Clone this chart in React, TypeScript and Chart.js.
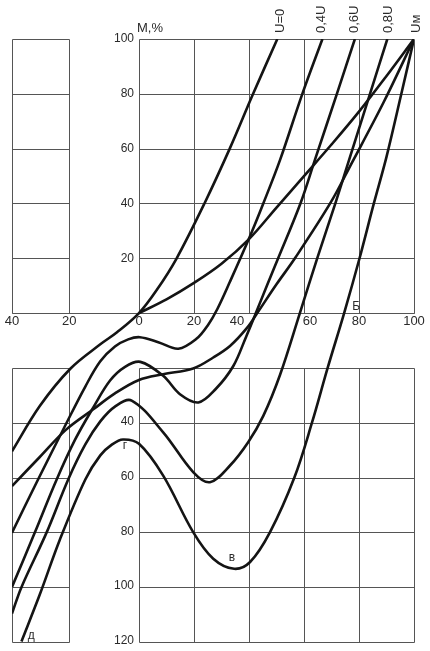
import React, { useEffect, useRef } from 'react';
import { Chart, registerables, LinearScale } from 'chart.js';

Chart.register(...registerables);

// ---------------- data ----------------
const X_TICKS = [-40, -20, 0, 20, 40, 60, 80, 100];
const X_TICK_LABELS = ['40', '20', '0', '20', '40', '60', '80', '100'];
const Y_TICKS_TOP = [20, 40, 60, 80, 100];
const Y_TICK_LABELS_TOP = ['20', '40', '60', '80', '100'];
const Y_TICKS_BOTTOM = [-40, -60, -80, -100, -120];
const Y_TICK_LABELS_BOTTOM = ['40', '60', '80', '100', '120'];

const GRID_X_LEFT = [-40, -20];
const GRID_X_MAIN = [0, 20, 40, 60, 80, 100];
const GRID_Y_TOP = [0, 20, 40, 60, 80, 100];
const GRID_Y_BOTTOM = [-20, -40, -60, -80, -100, -120];

const AXIS_TITLE = 'M,%';
const CURVE_NAMES = ['U=0', '0,4U', '0,6U', '0,8U', 'Uм'];
const CURVE_NAME_X = [51.3, 66.5, 78.5, 90.7, 101];
const POINT_LETTERS = ['Б', 'в', 'г', 'д'];
const POINT_LETTER_X = [79, 33.8, -4, -33.3];
const POINT_LETTER_Y = [2.5, -89.2, -48.4, -117.6];

// curve U = 0 (passes through the origin)
const curveU0: [number, number][] = [
  [-40, -50.4], [-30.3, -33.9], [-19.7, -20.3], [-11.1, -11.4], [-6.4, -7.1],
  [0, 0], [6.5, 8.5], [13.7, 20], [23.8, 40], [33, 60], [41.5, 80], [50.3, 100],
];
// curve from origin to the point Uм
const curveOriginUm: [number, number][] = [
  [0, 0], [10, 5], [20, 11], [30, 18], [40, 27], [50, 38.5], [60, 50], [70, 61.5],
  [80, 73.5], [90, 86.5], [100, 100],
];
// 0,4U
const curve04: [number, number][] = [
  [-40, -80.1], [-30.9, -60.7], [-21.5, -41.2], [-15.4, -26.8], [-11.1, -17.6], [-6.9, -12.2],
  [-3.1, -9.6], [0.3, -8.8], [7, -10.6], [14.3, -13], [21, -9.3], [25, -4.5], [28.5, 1.5],
  [33.1, 11.5], [40, 27.2], [45.2, 40], [51.3, 55.9], [59.4, 80], [66.7, 100],
];
// 0,6U
const curve06: [number, number][] = [
  [-40, -99.9], [-32, -80], [-24.4, -60.7], [-18.3, -46.1], [-13.1, -34.4], [-8.3, -24.6],
  [-4, -19.6], [0.5, -17.8], [8.8, -22.9], [14.9, -29.6], [21.6, -32.6], [27.9, -27.7],
  [34.3, -19.3], [39, -8.5], [42.5, 0], [46.5, 10], [50.6, 20], [58.7, 40], [64, 56],
  [71.9, 79.8], [78.5, 100],
];
// flat S-curve to Uм
const curveFlatUm: [number, number][] = [
  [-40, -63.1], [-30.3, -52.5], [-21.2, -42.6], [-13.1, -35.1], [-6.9, -29.3], [0, -24.4],
  [8.8, -22.3], [19.7, -20.2], [27, -16.2], [33.1, -12], [39.2, -5.5], [43, 0], [50, 10.5],
  [56.7, 20], [69.5, 40], [77.5, 55], [89, 77], [100, 100],
];
// 0,8U
const curve08: [number, number][] = [
  [-40, -109.6], [-36.7, -100], [-27.9, -80], [-20.3, -60.5], [-15.4, -47.9], [-11.1, -39.5],
  [-6.9, -34.1], [-2.1, -31.9], [8.8, -43.5], [19.7, -58], [25.8, -61.7], [33.1, -55.6],
  [39.7, -47.1], [45.2, -37.5], [51.3, -22.5], [58.5, 0], [64.8, 20], [71.4, 40], [76.4, 55.9],
  [84, 80], [90.3, 100],
];
// steep curve to Uм (through Б, в, г, д)
const curveSteepUm: [number, number][] = [
  [-36.7, -119.8], [-30.3, -102.7], [-23.3, -82.7], [-15.4, -60.7], [-11.1, -51.9],
  [-7.7, -47.9], [-4.6, -46.1], [0, -47.7], [8.8, -59.3], [19.7, -79.9], [27, -89.6],
  [34.6, -93.3], [40.4, -90.8], [47.6, -80], [56.5, -60], [62.9, -40], [68.6, -20],
  [74.6, 0], [80.2, 20], [85.4, 40], [90, 57], [95.4, 80], [100, 100],
];

const CURVES = [curveU0, curveOriginUm, curve04, curve06, curveFlatUm, curve08, curveSteepUm];

// ---------------- broken (piecewise linear) x scale ----------------
// value -> fraction of plot width
const X_BREAKS: [number, number][] = [[-40, 0], [-20, 0.1425], [0, 0.3159], [100, 1]];

function segIndex(v: number, col: number) {
  const b = X_BREAKS;
  let i = 0;
  while (i < b.length - 2 && v > b[i + 1][col]) i++;
  return i;
}
function valueToFraction(v: number) {
  const i = segIndex(v, 0);
  const [v0, f0] = X_BREAKS[i];
  const [v1, f1] = X_BREAKS[i + 1];
  return f0 + ((v - v0) / (v1 - v0)) * (f1 - f0);
}
function fractionToValue(f: number) {
  const i = segIndex(f, 1);
  const [v0, f0] = X_BREAKS[i];
  const [v1, f1] = X_BREAKS[i + 1];
  return v0 + ((f - f0) / (f1 - f0)) * (v1 - v0);
}

class BrokenLinearScale extends LinearScale {
  static id = 'brokenLinear';
  static defaults = {};
  getPixelForValue(value: number) {
    if (value === null || value === undefined || isNaN(value)) return NaN;
    return (this as any).getPixelForDecimal(valueToFraction(value));
  }
  getValueForPixel(pixel: number) {
    return fractionToValue((this as any).getDecimalForPixel(pixel));
  }
}
Chart.register(BrokenLinearScale as any);

// ---------------- styles ----------------
const FONT = '"Liberation Sans", Arial, sans-serif';
const GRID_COLOR = '#555555';
const TEXT_COLOR = '#2a2a2a';
const LINE_COLOR = '#141414';
const X_LABEL_NUDGE: Record<number, number> = { 40: -12, 60: 6 };

const drawPlugin = {
  id: 'brokenGridAndLabels',
  beforeDatasetsDraw(chart: any) {
    const { ctx } = chart;
    const xs = chart.scales.x;
    const ys = chart.scales.y;
    const px = (v: number) => Math.round(xs.getPixelForValue(v)) + 0.5;
    const py = (v: number) => Math.round(ys.getPixelForValue(v)) + 0.5;
    ctx.save();
    ctx.strokeStyle = GRID_COLOR;
    ctx.lineWidth = 1;
    const line = (x1: number, y1: number, x2: number, y2: number) => {
      ctx.beginPath();
      ctx.moveTo(x1, y1);
      ctx.lineTo(x2, y2);
      ctx.stroke();
    };
    const block = (gx: number[], gy: number[]) => {
      const x0 = px(Math.min(...gx));
      const x1 = px(Math.max(...gx));
      const y0 = py(Math.max(...gy));
      const y1 = py(Math.min(...gy));
      gx.forEach((v) => line(px(v), y0, px(v), y1));
      gy.forEach((v) => line(x0, py(v), x1, py(v)));
    };
    block(GRID_X_LEFT, GRID_Y_TOP);
    block(GRID_X_MAIN, GRID_Y_TOP);
    block(GRID_X_LEFT, GRID_Y_BOTTOM);
    block(GRID_X_MAIN, GRID_Y_BOTTOM);
    line(px(X_TICKS[0]), py(0), px(X_TICKS[X_TICKS.length - 1]), py(0));
    ctx.restore();
  },
  afterDatasetsDraw(chart: any) {
    const { ctx } = chart;
    const xs = chart.scales.x;
    const ys = chart.scales.y;
    ctx.save();
    ctx.fillStyle = TEXT_COLOR;
    // x tick labels
    ctx.font = '13px ' + FONT;
    ctx.textAlign = 'center';
    ctx.textBaseline = 'middle';
    X_TICKS.forEach((v, i) => {
      ctx.fillText(X_TICK_LABELS[i], xs.getPixelForValue(v) + (X_LABEL_NUDGE[v] || 0), ys.getPixelForValue(0) + 8);
    });
    // y tick labels, next to the vertical axis at x = 0
    ctx.font = '12px ' + FONT;
    ctx.textAlign = 'right';
    const yx = xs.getPixelForValue(0) - 5;
    Y_TICKS_TOP.forEach((v, i) => ctx.fillText(Y_TICK_LABELS_TOP[i], yx, ys.getPixelForValue(v)));
    Y_TICKS_BOTTOM.forEach((v, i) => ctx.fillText(Y_TICK_LABELS_BOTTOM[i], yx, ys.getPixelForValue(v) - 1));
    // axis title
    ctx.font = '13px ' + FONT;
    ctx.textAlign = 'center';
    ctx.fillText(AXIS_TITLE, xs.getPixelForValue(0) + 11, ys.getPixelForValue(100) - 11);
    // curve names, rotated
    ctx.textAlign = 'left';
    CURVE_NAMES.forEach((t, i) => {
      ctx.save();
      ctx.translate(xs.getPixelForValue(CURVE_NAME_X[i]), ys.getPixelForValue(100) - 6);
      ctx.rotate(-Math.PI / 2);
      ctx.fillText(t, 0, 0);
      ctx.restore();
    });
    // point letters
    ctx.font = '12px ' + FONT;
    ctx.textAlign = 'center';
    POINT_LETTERS.forEach((t, i) => {
      ctx.fillText(t, xs.getPixelForValue(POINT_LETTER_X[i]), ys.getPixelForValue(POINT_LETTER_Y[i]));
    });
    ctx.restore();
  },
};

export default function App() {
  const ref = useRef<HTMLCanvasElement>(null);
  useEffect(() => {
    if (!ref.current) return;
    const chart = new Chart(ref.current, {
      type: 'line',
      data: {
        datasets: CURVES.map((c) => ({
          data: c.map(([x, y]) => ({ x, y })),
          borderColor: LINE_COLOR,
          borderWidth: 2.6,
          pointRadius: 0,
          fill: false,
          tension: 0.35,
        })),
      },
      options: {
        responsive: false,
        maintainAspectRatio: false,
        devicePixelRatio: 1,
        animation: false,
        events: [],
        layout: { padding: { left: 12, right: 16, top: 39, bottom: 9 } },
        plugins: { legend: { display: false }, tooltip: { enabled: false }, title: { display: false } },
        scales: {
          x: { type: 'brokenLinear' as any, min: -40, max: 100, display: false },
          y: { type: 'linear', min: -120, max: 100, display: false },
        },
      },
      plugins: [drawPlugin],
    } as any);
    return () => chart.destroy();
  }, []);
  return (
    <div style={{ position: 'fixed', left: 0, top: 0, width: 430, height: 651, background: '#fff' }}>
      <canvas ref={ref} width={430} height={651} style={{ display: 'block', width: 430, height: 651 }} />
    </div>
  );
}
